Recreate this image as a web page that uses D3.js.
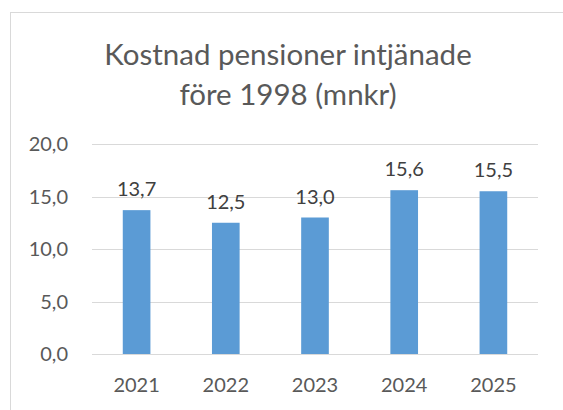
<!DOCTYPE html>
<html>
<head>
<meta charset="utf-8">
<script src="https://cdn.jsdelivr.net/npm/d3@7"></script>
<style>
  html, body { margin: 0; padding: 0; background: #fff; }
  svg { display: block; font-family: Lato, "Open Sans", sans-serif; }
</style>
</head>
<body>
<svg id="chart" width="563" height="410"></svg>
<script>
// data
const years = ["2021", "2022", "2023", "2024", "2025"];
const costs = [13.7, 12.5, 13.0, 15.6, 15.5];
const yTicks = [0, 5, 10, 15, 20];
const titleLines = ["Kostnad pensioner intjänade", "före 1998 (mnkr)"];

const svg = d3.select("#chart");
const width = 563, height = 410;
const margin = {top: 144, right: 25, bottom: 56, left: 92};
const fmt = v => d3.format(".1f")(v).replace(".", ",");

// chart frame (cropped on right and bottom)
svg.append("rect")
  .attr("x", 10.5)
  .attr("y", 12.5)
  .attr("width", width)
  .attr("height", height)
  .attr("fill", "#fff")
  .attr("stroke", "#d9d9d9")
  .attr("stroke-width", 1);

// title
svg.append("text")
  .attr("x", 288)
  .attr("y", 65)
  .attr("text-anchor", "middle")
  .attr("fill", "#595959")
  .attr("font-size", "29.5px")
  .selectAll("tspan")
  .data(titleLines)
  .enter()
  .append("tspan")
  .attr("x", 288)
  .attr("dy", (d, i) => i === 0 ? 0 : 40)
  .text(d => d);

const x = d3.scaleBand()
  .domain(years)
  .range([margin.left, width - margin.right])
  .paddingInner(0.69)
  .paddingOuter(0.345);

const y = d3.scaleLinear()
  .domain([0, 20])
  .range([height - margin.bottom, margin.top]);

// gridlines
svg.append("g")
  .selectAll("line")
  .data(yTicks)
  .enter()
  .append("line")
  .attr("x1", margin.left)
  .attr("x2", width - margin.right)
  .attr("y1", d => Math.round(y(d)) + 0.5)
  .attr("y2", d => Math.round(y(d)) + 0.5)
  .attr("stroke", "#d9d9d9")
  .attr("stroke-width", 1);

// y axis labels
svg.append("g")
  .selectAll("text")
  .data(yTicks)
  .enter()
  .append("text")
  .attr("x", 68)
  .attr("y", d => y(d) + 7)
  .attr("text-anchor", "end")
  .attr("fill", "#595959")
  .attr("font-size", "20px")
  .text(d => fmt(d));

// bars
svg.append("g")
  .selectAll("rect")
  .data(years)
  .enter()
  .append("rect")
  .attr("x", d => x(d))
  .attr("y", (d, i) => y(costs[i]))
  .attr("width", x.bandwidth())
  .attr("height", (d, i) => y(0) - y(costs[i]))
  .attr("fill", "#5b9bd5");

// value labels
svg.append("g")
  .selectAll("text")
  .data(years)
  .enter()
  .append("text")
  .attr("x", d => x(d) + x.bandwidth() / 2)
  .attr("y", (d, i) => y(costs[i]) - 14)
  .attr("text-anchor", "middle")
  .attr("fill", "#404040")
  .attr("font-size", "20px")
  .text((d, i) => fmt(costs[i]));

// x axis labels
svg.append("g")
  .selectAll("text")
  .data(years)
  .enter()
  .append("text")
  .attr("x", d => x(d) + x.bandwidth() / 2)
  .attr("y", 392)
  .attr("text-anchor", "middle")
  .attr("fill", "#595959")
  .attr("font-size", "20px")
  .text(d => d);
</script>
</body>
</html>
